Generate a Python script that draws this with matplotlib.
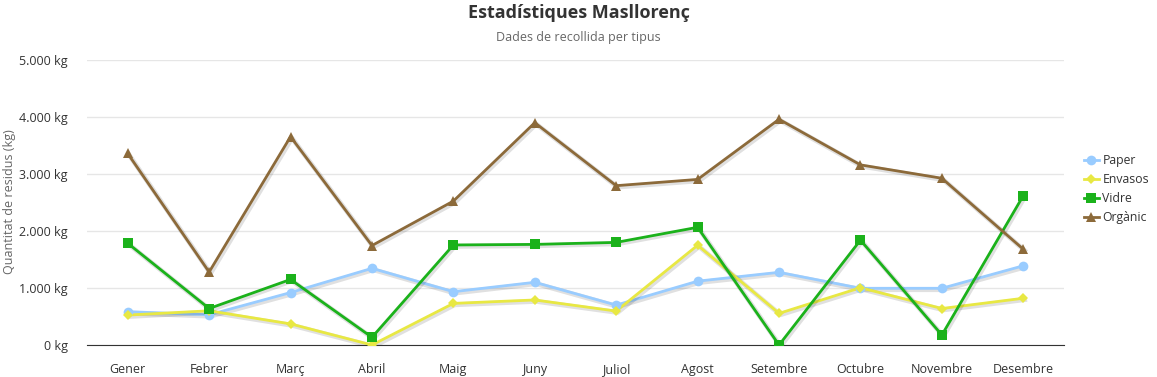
import matplotlib
matplotlib.use("Agg")
import matplotlib.pyplot as plt
import matplotlib.patheffects as pe
from matplotlib.lines import Line2D
from matplotlib.ticker import FuncFormatter

plt.rcParams['font.family'] = ['Open Sans', 'DejaVu Sans']

# dades
mesos = ['Gener', 'Febrer', 'Març', 'Abril', 'Maig', 'Juny', 'Juliol',
         'Agost', 'Setembre', 'Octubre', 'Novembre', 'Desembre']
paper = [585, 530, 920, 1345, 935, 1100, 700, 1120, 1275, 995, 995, 1390]
envasos = [525, 600, 370, 0, 730, 790, 595, 1750, 555, 1005, 640, 820]
vidre = [1785, 640, 1150, 135, 1755, 1765, 1800, 2065, 0, 1840, 175, 2620]
organic = [3360, 1280, 3655, 1745, 2525, 3900, 2795, 2905, 3960, 3160, 2925, 1680]

series = [
    ('Paper', paper, '#99ccff', 'o', 7),
    ('Envasos', envasos, '#e8e843', 'D', 5),
    ('Vidre', vidre, '#1bb21b', 's', 7),
    ('Orgànic', organic, '#8c6a3a', '^', 7),
]

fig = plt.figure(figsize=(11.57, 3.77), dpi=100)
ax = fig.add_axes([87 / 1157, 32 / 377, (1064 - 87) / 1157, 285 / 377])

x = list(range(len(mesos)))
sombra = [pe.SimpleLineShadow(offset=(1, -1), shadow_color='k', alpha=0.12, linewidth=3.5), pe.Normal()]
handles = []
for nom, vals, color, mk, ms in series:
    ax.plot(x, vals, color=color, lw=2, path_effects=sombra, zorder=3)
    ax.plot(x, vals, ls='none', marker=mk, markersize=ms, color=color,
            markeredgewidth=0, zorder=4)
    handles.append(Line2D([], [], color=color, lw=2, marker=mk, markersize=ms,
                          markeredgewidth=0, label=nom))

ax.set_xlim(-0.5, 11.5)
ax.set_ylim(0, 5000)
ax.set_yticks(range(0, 5001, 1000))
ax.yaxis.set_major_formatter(FuncFormatter(lambda v, p: f"{int(v):,} kg".replace(',', '.')))
ax.set_xticks(x)
ax.set_xticklabels(mesos)
ax.grid(axis='y', color='#e6e6e6', lw=1)
ax.set_axisbelow(True)
for s in ['top', 'right', 'left']:
    ax.spines[s].set_visible(False)
ax.spines['bottom'].set_color('#333333')
ax.tick_params(axis='both', length=0, colors='#333333', labelsize=9)
ax.tick_params(axis='x', pad=13)
ax.tick_params(axis='y', pad=14)

fig.text(10 / 1157, 1 - 202 / 377, 'Quantitat de residus (kg)', rotation=90,
         ha='center', va='center', color='#666666', fontsize=9)
fig.text(0.5, 1 - 13 / 377, 'Estadístiques Masllorenç', ha='center', va='center',
         fontsize=13, fontweight='bold', color='#333333')
fig.text(0.5, 1 - 38 / 377, 'Dades de recollida per tipus', ha='center', va='center',
         fontsize=9, color='#666666')

leg = ax.legend(handles=handles, loc='center left', bbox_to_anchor=(1084 / 1157, 1 - 189 / 377),
                bbox_transform=fig.transFigure, frameon=False, fontsize=8.8,
                borderpad=0, borderaxespad=0,
                handlelength=1.2, handletextpad=0.3, labelspacing=0.5)
for t in leg.get_texts():
    t.set_color('#333333')

fig.savefig('out.png', dpi=100)
